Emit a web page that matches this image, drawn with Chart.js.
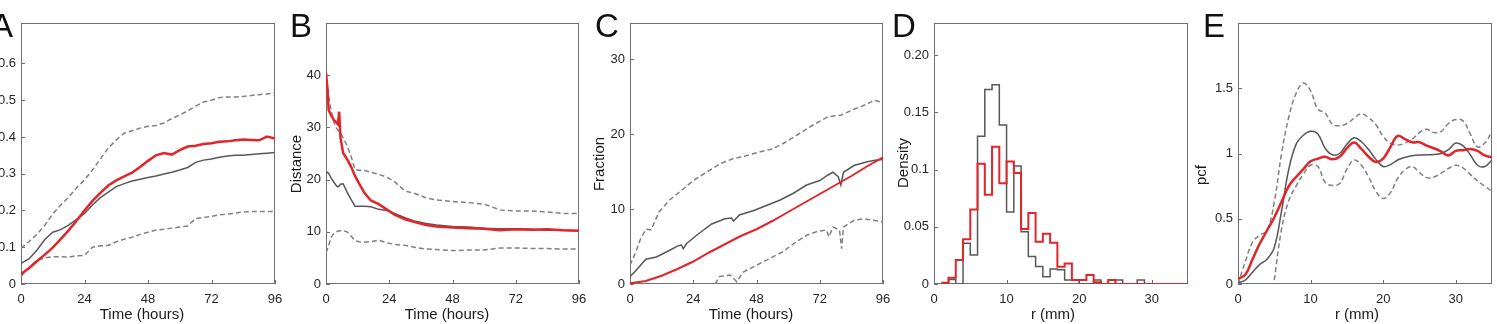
<!DOCTYPE html>
<html>
<head>
<meta charset="utf-8">
<title>Panels A-E</title>
<script src="https://cdn.jsdelivr.net/npm/chart.js@4.4.1/dist/chart.umd.min.js"></script>
<style>
  html, body { margin: 0; padding: 0; background: #fff; }
  body { position: relative; width: 1497px; height: 324px; overflow: hidden;
         font-family: 'Liberation Sans', Arial, Helvetica, sans-serif; color: #1a1a1a; }
  canvas { position: absolute; top: 0; }
  .panel-letter { position: absolute; top: 9px; font-size: 33px; line-height: 33px; color: #111; }
  .axis-title { position: absolute; font-size: 15px; line-height: 15px; white-space: nowrap;
                transform: translate(-50%, -50%); color: #1a1a1a; }
  .axis-title.vertical { transform: translate(-50%, -50%) rotate(-90deg); }
</style>
</head>
<body>
<canvas id="chartA"></canvas>
<canvas id="chartB"></canvas>
<canvas id="chartC"></canvas>
<canvas id="chartD"></canvas>
<canvas id="chartE"></canvas>

<!-- panel letters -->
<div class="panel-letter" style="left:-9px">A</div>
<div class="panel-letter" style="left:290px">B</div>
<div class="panel-letter" style="left:595px">C</div>
<div class="panel-letter" style="left:892px">D</div>
<div class="panel-letter" style="left:1203px">E</div>

<!-- axis titles -->
<div class="axis-title" style="left:142px;top:313px">Time (hours)</div>
<div class="axis-title" style="left:447px;top:313px">Time (hours)</div>
<div class="axis-title" style="left:751px;top:313px">Time (hours)</div>
<div class="axis-title" style="left:1053px;top:313px">r (mm)</div>
<div class="axis-title" style="left:1357px;top:313px">r (mm)</div>
<div class="axis-title vertical" style="left:295px;top:164px">Distance</div>
<div class="axis-title vertical" style="left:598px;top:164px">Fraction</div>
<div class="axis-title vertical" style="left:902px;top:163px">Density</div>
<div class="axis-title vertical" style="left:1200px;top:175px">pcf</div>

<script>
/* ---------- data: panel A ---------- */
const timeA  = [0, 3, 6, 9, 12, 15, 18, 21, 24, 27, 30, 33, 36, 39, 42, 45, 48, 51, 54, 57, 60, 63, 66, 69, 72, 75, 78, 81, 84, 87, 90, 93, 96];
const redA   = [0.027, 0.043, 0.062, 0.080, 0.099, 0.122, 0.146, 0.172, 0.200, 0.226, 0.248, 0.268, 0.282, 0.293, 0.303, 0.318, 0.335, 0.350, 0.356, 0.352, 0.364, 0.374, 0.376, 0.381, 0.383, 0.387, 0.388, 0.391, 0.393, 0.392, 0.391, 0.401, 0.396];
const greyA  = [0.056, 0.068, 0.092, 0.121, 0.141, 0.148, 0.160, 0.176, 0.192, 0.215, 0.235, 0.250, 0.265, 0.273, 0.280, 0.285, 0.290, 0.294, 0.299, 0.304, 0.310, 0.317, 0.331, 0.337, 0.340, 0.345, 0.348, 0.350, 0.350, 0.352, 0.354, 0.356, 0.358];
const upperA = [0.097, 0.115, 0.135, 0.160, 0.190, 0.215, 0.236, 0.262, 0.283, 0.310, 0.340, 0.370, 0.392, 0.410, 0.417, 0.424, 0.429, 0.431, 0.438, 0.450, 0.460, 0.471, 0.484, 0.495, 0.500, 0.507, 0.509, 0.509, 0.510, 0.513, 0.515, 0.517, 0.520];
const lowerA = [0.020, 0.045, 0.064, 0.071, 0.074, 0.074, 0.073, 0.077, 0.078, 0.100, 0.104, 0.105, 0.115, 0.122, 0.127, 0.135, 0.141, 0.147, 0.149, 0.152, 0.155, 0.158, 0.178, 0.181, 0.184, 0.188, 0.190, 0.193, 0.196, 0.197, 0.197, 0.197, 0.197];
const yTicksA  = [0, 0.1, 0.2, 0.3, 0.4, 0.5, 0.6];
const yLabelsA = ['0', '0.1', '0.2', '0.3', '0.4', '0.5', '0.6'];

/* ---------- data: panel B ---------- */
const timeB  = [0, 0.5, 1, 2, 3, 4, 4.5, 5, 5.5, 6.5, 8, 9.5, 11, 12.5, 14.5, 17, 20, 23, 26, 30, 34, 38, 42, 48, 54, 60, 66, 72, 78, 84, 90, 96];
const redB   = [40.4, 37.8, 33.3, 32.3, 31.4, 30.9, 30.6, 33.0, 28.0, 25.1, 23.9, 22.5, 20.7, 19.3, 17.5, 16.0, 15.3, 14.3, 13.3, 12.4, 11.8, 11.3, 11.0, 10.8, 10.7, 10.6, 10.3, 10.5, 10.4, 10.5, 10.3, 10.2];
const greyB  = [21.2, 21.4, 21.2, 20.3, 19.5, 18.8, 18.6, 18.8, 19.1, 19.2, 17.6, 16.2, 14.9, 14.9, 14.9, 14.8, 14.3, 14.1, 13.5, 12.7, 12.0, 11.6, 11.3, 11.0, 10.9, 10.7, 10.6, 10.6, 10.5, 10.3, 10.3, 10.2];
const upperB = [40.5, 38.0, 36.0, 33.0, 31.0, 29.8, 29.5, 29.2, 29.0, 28.0, 26.5, 24.5, 21.9, 21.8, 21.8, 21.4, 21.0, 20.5, 19.6, 17.8, 17.3, 16.5, 16.1, 15.8, 15.6, 15.3, 14.2, 14.0, 14.0, 13.8, 13.5, 13.5];
const lowerB = [6.0, 6.6, 7.4, 9.0, 9.7, 10.0, 10.1, 10.2, 10.2, 10.2, 10.0, 9.2, 8.3, 8.1, 8.0, 8.1, 8.4, 7.9, 7.6, 7.4, 7.0, 6.7, 6.6, 6.4, 6.5, 6.5, 6.9, 6.9, 6.8, 6.8, 6.7, 6.7];
const yTicksB  = [0, 10, 20, 30, 40];
const yLabelsB = ['0', '10', '20', '30', '40'];

/* ---------- data: panel C ---------- */
const redTimeC   = [0, 6, 12, 18, 24, 30, 36, 42, 48, 54, 60, 66, 72, 78, 84, 90, 96];
const redC       = [0.1, 0.4, 1.1, 2.0, 3.0, 4.2, 5.3, 6.4, 7.3, 8.4, 9.6, 10.8, 12.0, 13.2, 14.4, 15.7, 16.9];
const greyTimeC  = [0, 2, 4, 6, 10, 14, 18, 19.5, 20.2, 21.5, 26, 31, 36, 38.5, 39.3, 41.5, 47, 52, 57, 62, 67, 72, 75, 77, 79, 80, 81, 85, 90, 93, 96];
const greyC      = [1.0, 1.7, 2.5, 3.3, 3.6, 4.3, 5.05, 5.2, 4.7, 5.4, 6.7, 8.0, 8.7, 8.8, 8.4, 9.2, 9.8, 10.5, 11.2, 12.1, 13.2, 13.8, 14.5, 14.9, 14.3, 13.2, 14.9, 15.8, 16.3, 16.5, 16.6];
const upperTimeC = [0, 2, 4, 6, 8, 11, 15, 19, 24, 29, 34, 39, 44, 49, 54, 59, 64, 69, 75, 80, 85, 90, 92.5, 96];
const upperC     = [2.5, 4.1, 6.0, 7.3, 7.2, 9.6, 11.2, 12.3, 13.8, 14.9, 16.0, 16.7, 17.1, 17.6, 18.0, 18.9, 20.0, 21.1, 22.3, 22.5, 23.3, 24.0, 24.5, 24.2];
const lowerTimeC = [32.3, 34, 38, 40.5, 43, 48, 53, 58, 63, 67, 71, 74.5, 75.5, 77, 79.5, 80.3, 81, 85, 88.5, 92, 96];
const lowerC     = [0, 1.0, 1.2, 0.3, 1.6, 2.5, 3.4, 4.3, 5.6, 6.5, 7.0, 7.2, 6.3, 7.6, 7.2, 4.7, 7.6, 8.5, 8.7, 8.5, 8.3];
const yTicksC  = [0, 10, 20, 30];
const yLabelsC = ['0', '10', '20', '30'];

/* ---------- data: panel D (histogram, bin left edges, last entry closes the stairs) ---------- */
const binEdgesD = [1, 2, 3, 4, 5, 6, 7, 8, 9, 10, 11, 12, 13, 14, 15, 16, 17, 18, 19, 20, 21, 22, 23, 24, 25, 26, 27, 28, 29, 30, 31, 32, 33, 34, 35];
const densRedD  = [0.001, 0.0055, 0.021, 0.039, 0.065, 0.105, 0.078, 0.120, 0.088, 0.107, 0.097, 0.048, 0.062, 0.037, 0.044, 0.036, 0.015, 0.018, 0.0035, 0.0035, 0.0079, 0.0015, 0, 0.0035, 0, 0, 0, 0, 0, 0, 0, 0, 0, 0, 0];
const densGreyD = [0, 0.004, 0, 0.0356, 0.0253, 0.129, 0.170, 0.174, 0.139, 0.063, 0.103, 0.0457, 0.024, 0.0152, 0.0064, 0.013, 0.0125, 0.0035, 0.0035, 0, 0, 0.0035, 0, 0, 0.0035, 0, 0, 0.0035, 0, 0, 0, 0, 0, 0, 0];
const yTicksD  = [0, 0.05, 0.1, 0.15, 0.2];
const yLabelsD = ['0', '0.05', '0.1', '0.15', '0.20'];

/* ---------- data: panel E ---------- */
const rE     = [0, 1, 2, 3, 4, 5, 6, 7, 8, 9, 10, 11, 12, 13, 14, 15, 16, 17, 18, 19, 20, 21, 22, 23, 24, 25, 26, 27, 28, 29, 30, 31, 32, 33, 34, 35];
const redE   = [0.04, 0.07, 0.19, 0.31, 0.41, 0.51, 0.63, 0.75, 0.82, 0.88, 0.94, 0.96, 0.975, 0.955, 0.975, 1.04, 1.085, 1.035, 0.975, 0.935, 0.96, 1.05, 1.135, 1.11, 1.086, 1.086, 1.06, 1.04, 1.015, 0.985, 1.02, 1.025, 1.035, 1.02, 0.985, 0.97];
const greyE  = [0.01, 0.03, 0.09, 0.15, 0.19, 0.28, 0.56, 0.88, 1.07, 1.14, 1.17, 1.15, 1.04, 0.99, 1.0, 1.07, 1.12, 1.09, 1.03, 0.955, 0.9, 0.915, 0.95, 0.97, 0.982, 0.988, 0.99, 0.993, 1.0, 1.03, 1.08, 1.06, 0.99, 0.91, 0.9, 0.95];
const upperE = [0.0, 0.17, 0.32, 0.375, 0.41, 0.63, 1.0, 1.28, 1.46, 1.54, 1.48, 1.34, 1.31, 1.225, 1.212, 1.23, 1.27, 1.305, 1.275, 1.22, 1.13, 1.08, 1.065, 1.08, 1.11, 1.16, 1.185, 1.16, 1.17, 1.23, 1.26, 1.25, 1.15, 1.05, 1.08, 1.17];
const lowerE = [null, null, null, null, null, 0.03, 0.42, 0.64, 0.75, 0.84, 0.91, 0.90, 0.78, 0.755, 0.77, 0.88, 0.95, 0.91, 0.82, 0.71, 0.655, 0.70, 0.81, 0.875, 0.90, 0.855, 0.815, 0.82, 0.85, 0.885, 0.91, 0.89, 0.84, 0.79, 0.75, 0.71];
const yTicksE  = [0, 0.5, 1, 1.5];
const yLabelsE = ['0', '0.5', '1', '1.5'];

/* ---------- shared x ticks ---------- */
const timeTicks  = [0, 24, 48, 72, 96];
const timeLabels = ['0', '24', '48', '72', '96'];
const rTicks     = [0, 10, 20, 30];
const rLabels    = ['0', '10', '20', '30'];

/* ---------- look ---------- */
const H = 324;
const AXIS_W = 60;     // room left of each plot box for tick labels
const AXIS_H = 40;     // room under each plot box
const PAD_R = 16;
const PAD_T = 23;
const RED = '#e2252b';
const GREY = '#585858';
const DASH = '#808080';
const FRAME = '#707070';
const TICK_TEXT = '#262626';

Chart.defaults.font.family = "'Liberation Sans', Arial, Helvetica, sans-serif";

const toPoints = (xs, ys) => xs.map((x, i) => ({ x, y: ys[i] }));

const redLine  = (xs, ys, w, extra) => Object.assign({ data: toPoints(xs, ys), borderColor: RED, borderWidth: w, tension: 0 }, extra);
const greyLine = (xs, ys, extra) => Object.assign({ data: toPoints(xs, ys), borderColor: GREY, borderWidth: 1.5, tension: 0 }, extra);
const dashLine = (xs, ys, extra) => Object.assign({ data: toPoints(xs, ys), borderColor: DASH, borderWidth: 1.5, borderDash: [5, 3], tension: 0 }, extra);

// box around the plot plus short inward tick marks (bottom and left)
const frameTicks = {
    id: 'frameTicks',
    beforeDatasetsDraw(chart) {
        const { ctx, chartArea: a, scales: { x, y } } = chart;
        ctx.save();
        ctx.strokeStyle = FRAME;
        ctx.lineWidth = 1;
        ctx.strokeRect(a.left + 0.5, a.top + 0.5, a.right - a.left - 1, a.bottom - a.top - 1);
        ctx.beginPath();
        x.ticks.forEach(t => {
            const px = Math.round(x.getPixelForValue(t.value)) + 0.5;
            ctx.moveTo(px, a.bottom);
            ctx.lineTo(px, a.bottom - 4);
        });
        y.ticks.forEach(t => {
            const py = Math.round(y.getPixelForValue(t.value)) + 0.5;
            ctx.moveTo(a.left, py);
            ctx.lineTo(a.left + 4, py);
        });
        ctx.stroke();
        ctx.restore();
    }
};

function axis(spec, isX) {
    return {
        type: 'linear',
        min: spec.min,
        max: spec.max,
        grid: { display: false, drawTicks: false },
        border: { display: false },
        afterBuildTicks: s => { s.ticks = spec.ticks.map(v => ({ value: v })); },
        afterFit: s => { if (isX) s.height = AXIS_H; else s.width = AXIS_W; },
        ticks: {
            autoSkip: false,
            maxRotation: 0,
            padding: isX ? 8 : 5,
            color: TICK_TEXT,
            font: { size: 13 },
            callback: (v, i) => spec.labels[i]
        }
    };
}

function makeChart(id, box, xSpec, ySpec, datasets) {
    const canvas = document.getElementById(id);
    const w = box.right - box.left + AXIS_W + PAD_R;
    canvas.width = w;
    canvas.height = H;
    canvas.style.width = w + 'px';
    canvas.style.height = H + 'px';
    canvas.style.left = (box.left - AXIS_W) + 'px';
    return new Chart(canvas, {
        type: 'line',
        data: { datasets },
        options: {
            responsive: false,
            animation: false,
            events: [],
            layout: { padding: { top: PAD_T, right: PAD_R, left: 0, bottom: 0 } },
            elements: { point: { radius: 0 } },
            plugins: { legend: { display: false }, tooltip: { enabled: false } },
            scales: { x: axis(xSpec, true), y: axis(ySpec, false) }
        },
        plugins: [frameTicks]
    });
}

const timeAxis = { min: 0, max: 96, ticks: timeTicks, labels: timeLabels };
const rAxis = { min: 0, max: 35, ticks: rTicks, labels: rLabels };

// first dataset is drawn on top, so red goes first
makeChart('chartA', { left: 21, right: 275 }, timeAxis,
    { min: 0, max: 0.71, ticks: yTicksA, labels: yLabelsA }, [
        redLine(timeA, redA, 2.5),
        greyLine(timeA, greyA),
        dashLine(timeA, upperA),
        dashLine(timeA, lowerA)
    ]);

makeChart('chartB', { left: 326, right: 579 }, timeAxis,
    { min: 0, max: 50, ticks: yTicksB, labels: yLabelsB }, [
        redLine(timeB, redB, 2.5),
        greyLine(timeB, greyB),
        dashLine(timeB, upperB),
        dashLine(timeB, lowerB)
    ]);

makeChart('chartC', { left: 630, right: 883 }, timeAxis,
    { min: 0, max: 34.8, ticks: yTicksC, labels: yLabelsC }, [
        redLine(redTimeC, redC, 2),
        greyLine(greyTimeC, greyC),
        dashLine(upperTimeC, upperC),
        dashLine(lowerTimeC, lowerC)
    ]);

makeChart('chartD', { left: 934, right: 1188 }, rAxis,
    { min: 0, max: 0.228, ticks: yTicksD, labels: yLabelsD }, [
        redLine(binEdgesD, densRedD, 2, { stepped: 'before' }),
        greyLine(binEdgesD, densGreyD, { stepped: 'before' })
    ]);

makeChart('chartE', { left: 1238, right: 1492 }, rAxis,
    { min: 0, max: 2, ticks: yTicksE, labels: yLabelsE }, [
        redLine(rE, redE, 2.5, { tension: 0.4 }),
        greyLine(rE, greyE, { tension: 0.4 }),
        dashLine(rE, upperE, { tension: 0.4 }),
        dashLine(rE, lowerE, { tension: 0.4 })
    ]);
</script>
</body>
</html>
